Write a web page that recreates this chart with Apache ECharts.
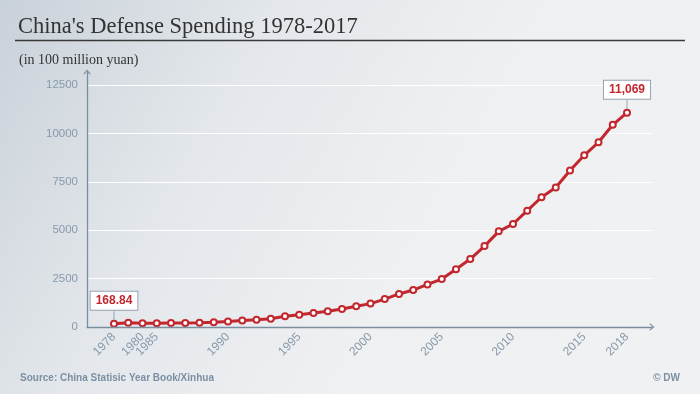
<!DOCTYPE html>
<html>
<head>
<meta charset="utf-8">
<script src="https://cdn.jsdelivr.net/npm/echarts@6/dist/echarts.min.js"></script>
<style>
html,body{margin:0;padding:0;background:#eff0f2;}
#chart{width:700px;height:394px;}
</style>
</head>
<body>
<div id="chart"></div>
<script>
// Categories (years shown on the chart)
var years = ['1978','1979','1980','1985','1986','1987','1988','1989','1990','1991','1992','1993','1994','1995','1996','1997','1998','1999','2000','2001','2002','2003','2004','2005','2006','2007','2008','2009','2010','2011','2012','2013','2014','2015','2016','2017','2018'];
// Defense spending, 100 million yuan
var spending = [168.84,222.64,193.84,191.53,200.75,209.62,218.00,251.47,290.31,330.31,377.86,425.80,550.71,636.72,720.06,812.57,934.70,1076.40,1207.54,1442.04,1707.78,1907.87,2200.01,2474.96,2979.38,3510,4178.76,4940,5321,6011,6703,7202,8082,8869,9543,10444,11069];
// Tick labels
var xTickLabels = ['1978','1980','1985','1990','1995','2000','2005','2010','2015','2018'];
var yMin = 0, yMax = 12500, yInterval = 2500;

var axisColor = '#7a8ea0';
var labelColor = '#8799ab';
var red = '#c1272d';
var chevron = 'path://M0,6 L5,0 L10,6 L8.6,6.6 L5,2.2 L1.4,6.6 Z';

var lastIdx = spending.length - 1;
var seriesData = spending.map(function (v, i) {
  if (i === 0 || i === lastIdx) {
    return {
      value: v,
      label: {
        show: true,
        position: 'top',
        distance: 10,
        formatter: function (p) {
          return p.dataIndex === 0 ? p.value.toFixed(2) : p.value.toLocaleString('en-US');
        },
        color: red,
        fontFamily: 'Liberation Sans, Arial, sans-serif',
        fontWeight: 'bold',
        fontSize: 12,
        lineHeight: 14,
        backgroundColor: '#ffffff',
        borderColor: '#95a3b0',
        borderWidth: 1,
        padding: [2, 5]
      }
    };
  }
  return v;
});

var chart = echarts.init(document.getElementById('chart'), null, {renderer: 'canvas'});
chart.setOption({
  animation: false,
  backgroundColor: {
    type: 'linear', x: 0, y: 0, x2: 1, y2: 1,
    colorStops: [
      {offset: 0, color: '#c9d1d9'},
      {offset: 0.3, color: '#e3e7eb'},
      {offset: 0.6, color: '#eff0f2'},
      {offset: 1, color: '#f0f1f3'}
    ]
  },
  title: [
    {
      text: "China's Defense Spending 1978-2017",
      left: 13, top: 11,
      textStyle: {fontFamily: 'Liberation Serif, Georgia, serif', fontWeight: 'normal', fontSize: 22.5, color: '#333333'}
    },
    {
      text: '(in 100 million yuan)',
      left: 14, top: 48,
      textStyle: {fontFamily: 'Liberation Serif, Georgia, serif', fontWeight: 'normal', fontSize: 14, color: '#333333'}
    },
    {
      text: 'Source: China Statisic Year Book/Xinhua',
      left: 15, top: 368,
      textStyle: {fontFamily: 'Liberation Sans, Arial, sans-serif', fontWeight: 'bold', fontSize: 10, color: '#7b8fa3'}
    },
    {
      text: '© DW',
      right: 15, top: 368,
      textStyle: {fontFamily: 'Liberation Sans, Arial, sans-serif', fontWeight: 'bold', fontSize: 10, color: '#7b8fa3'}
    }
  ],
  graphic: [
    {type: 'line', shape: {x1: 15, y1: 40.5, x2: 685, y2: 40.5}, style: {stroke: '#3a3a3a', lineWidth: 1.5}}
  ],
  grid: [
    {left: 87, right: 48, top: 72, bottom: 67},
    {left: 87, right: 47, top: 85, bottom: 67},
    {left: 114, right: 73, top: 85, bottom: 67}
  ],
  xAxis: [
    {
      gridIndex: 0, type: 'value', min: 0, max: 1, z: 5,
      axisLine: {show: true, lineStyle: {color: axisColor, width: 1.3}, symbol: ['none', chevron], symbolSize: [8, 5]},
      axisTick: {show: false}, axisLabel: {show: false}, splitLine: {show: false}
    },
    {gridIndex: 1, type: 'value', show: false},
    {
      gridIndex: 2, type: 'category', data: years, boundaryGap: false,
      axisLine: {show: false}, axisTick: {show: false}, splitLine: {show: false},
      axisLabel: {
        rotate: 45, margin: 8, color: labelColor, fontSize: 12,
        fontFamily: 'Liberation Sans, Arial, sans-serif',
        interval: function (idx, val) { return xTickLabels.indexOf(val) >= 0; }
      }
    }
  ],
  yAxis: [
    {
      gridIndex: 0, type: 'value', min: 0, max: 1, z: 5,
      axisLine: {show: true, lineStyle: {color: axisColor, width: 1.3}, symbol: ['none', chevron], symbolSize: [8, 5]},
      axisTick: {show: false}, axisLabel: {show: false}, splitLine: {show: false}
    },
    {
      gridIndex: 1, type: 'value', min: yMin, max: yMax, interval: yInterval,
      axisLine: {show: false}, axisTick: {show: false},
      axisLabel: {
        color: labelColor, fontSize: 11.5, margin: 9, fontFamily: 'Liberation Sans, Arial, sans-serif',
        formatter: function (v) { return String(v); }
      },
      splitLine: {show: true, lineStyle: {color: '#ffffff', width: 1.2}}
    },
    {gridIndex: 2, type: 'value', min: yMin, max: yMax, show: false}
  ],
  series: [
    {
      type: 'line',
      xAxisIndex: 2, yAxisIndex: 2,
      data: seriesData,
      z: 3,
      symbol: 'circle', symbolSize: 6, showAllSymbol: true,
      lineStyle: {color: red, width: 3},
      itemStyle: {color: '#ffffff', borderColor: red, borderWidth: 2},
      markPoint: {
        silent: true,
        label: {show: false},
        symbol: 'rect',
        symbolSize: [1, 9],
        symbolOffset: [0, -8],
        itemStyle: {color: '#95a3b0'},
        data: [
          {coord: [years[0], spending[0]]},
          {coord: [years[lastIdx], spending[lastIdx]]}
        ]
      }
    }
  ]
});
</script>
</body>
</html>
